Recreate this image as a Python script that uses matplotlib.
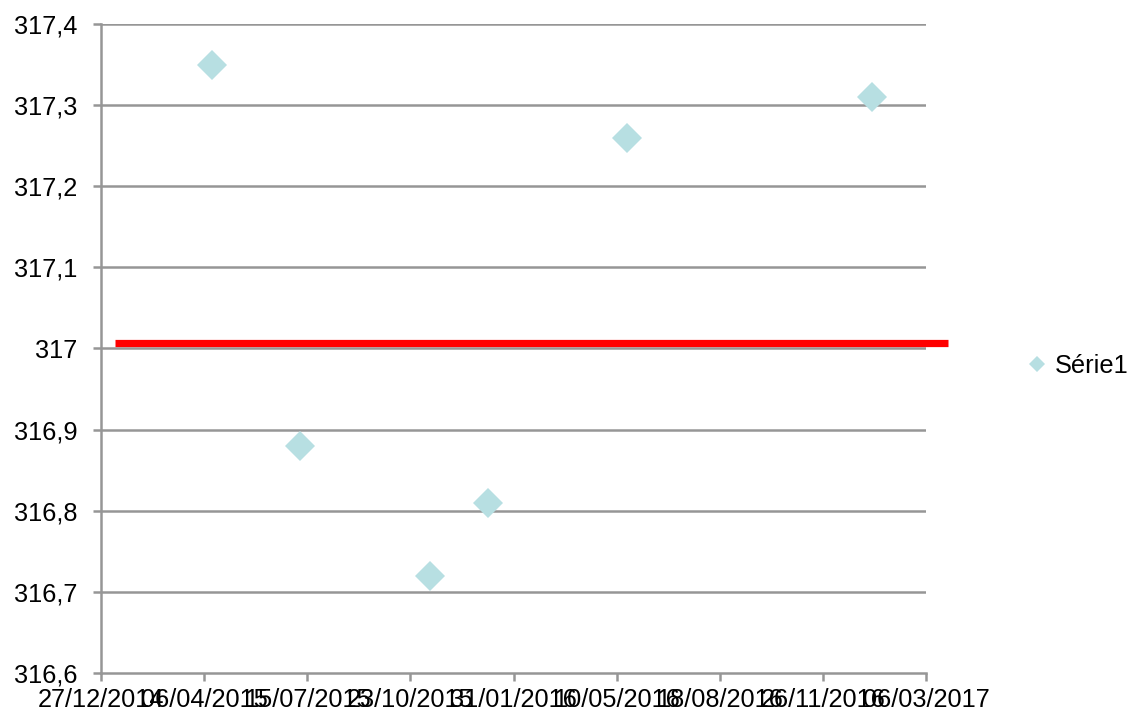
import matplotlib
matplotlib.use("Agg")
import matplotlib.pyplot as plt
import matplotlib.dates as mdates
from matplotlib.ticker import FixedLocator, FuncFormatter
import datetime as dt

# Data
dates = ["2015-04-14", "2015-07-08", "2015-11-11", "2016-01-06", "2016-05-20", "2017-01-13"]
values = [317.35, 316.88, 316.72, 316.81, 317.26, 317.31]
series_name = "Série1"

ref_value = 317.007
ref_start = "2015-01-10"
ref_end = "2017-03-27"

x_ticks = ["2014-12-27", "2015-04-06", "2015-07-15", "2015-10-23", "2016-01-31",
           "2016-05-10", "2016-08-18", "2016-11-26", "2017-03-06"]
y_ticks = [316.6, 316.7, 316.8, 316.9, 317.0, 317.1, 317.2, 317.3, 317.4]

plt.rcParams['font.family'] = ['Liberation Sans', 'DejaVu Sans']

W, H = 1130, 717
fig = plt.figure(figsize=(W / 100, H / 100), dpi=100)
ax = fig.add_axes([101 / W, 1 - 673 / H, (926 - 101) / W, (673 - 24) / H])

to_num = lambda s: mdates.date2num(dt.datetime.strptime(s, "%Y-%m-%d"))
xd = [to_num(d) for d in dates]
xt = [to_num(d) for d in x_ticks]

grid_c = '#969696'
for y in y_ticks[1:]:
    ax.axhline(y, color=grid_c, lw=1.8, zorder=1)

ax.plot(xd, values, linestyle='none', marker='D', markersize=15,
        color='#b7dfe2', markeredgewidth=0, label=series_name, zorder=3)

ax.plot([to_num(ref_start), to_num(ref_end)], [ref_value, ref_value],
        color='#ff0000', lw=5.2, solid_capstyle='butt', clip_on=False, zorder=4)

ax.set_xlim(xt[0], xt[-1])
ax.set_ylim(y_ticks[0], y_ticks[-1])
ax.xaxis.set_major_locator(FixedLocator(xt))
ax.xaxis.set_major_formatter(FuncFormatter(lambda v, p: mdates.num2date(v).strftime("%d/%m/%Y")))
ax.yaxis.set_major_locator(FixedLocator(y_ticks))
ax.yaxis.set_major_formatter(FuncFormatter(lambda v, p: ("%g" % round(v, 1)).replace('.', ',')))

for s in ['top', 'right']:
    ax.spines[s].set_visible(False)
for s in ['left', 'bottom']:
    ax.spines[s].set_color(grid_c)
    ax.spines[s].set_linewidth(1.8)
ax.tick_params(axis='both', colors=grid_c, width=1.8, length=6, labelcolor='black', labelsize=18.3)
ax.tick_params(axis='x', pad=5)
ax.tick_params(axis='y', pad=11)

fig.legend(loc='center left', bbox_to_anchor=(1029.4 / W, 1 - 366 / H), frameon=False,
           fontsize=18.3, handletextpad=0.41, markerscale=0.53, handlelength=0.6,
           borderpad=0, borderaxespad=0)

fig.savefig("out.png", dpi=100)
